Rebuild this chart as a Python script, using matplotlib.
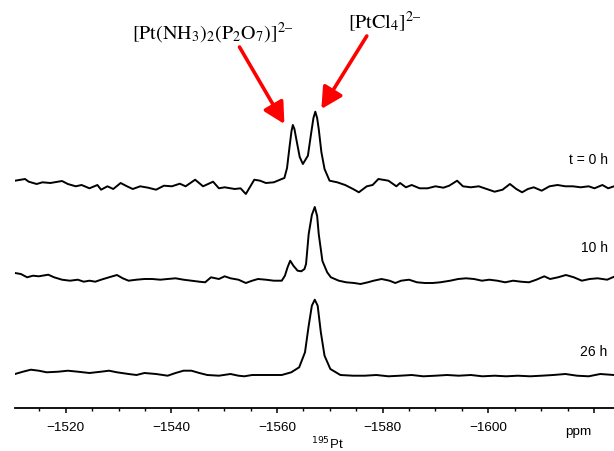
import numpy as np
import matplotlib
matplotlib.use("Agg")
import matplotlib.pyplot as plt

# 195Pt NMR spectra
# intensities are in plot units above each trace's own baseline

t0_ppm = [-1510.4, -1512.3, -1513.0, -1514.5, -1515.6, -1517.1, -1519.3, -1520.4, -1521.9, -1523.0,
          -1524.5, -1526.0, -1526.7, -1527.9, -1529.0, -1530.4, -1531.6, -1532.7, -1534.1, -1535.6,
          -1537.1, -1538.6, -1540.1, -1541.6, -1542.7, -1544.5, -1546.0, -1547.9, -1549.0, -1550.1,
          -1552.0, -1553.1, -1554.1, -1555.7, -1556.8, -1557.9, -1559.4, -1560.9, -1561.4, -1561.9,
          -1562.4, -1562.75, -1563.0, -1563.3, -1563.65, -1564.3, -1564.9, -1565.85, -1566.5, -1566.9,
          -1567.25, -1567.6, -1567.9, -1568.4, -1569.0, -1569.95, -1571.4, -1572.9, -1574.4, -1575.5,
          -1577.0, -1578.1, -1579.2, -1581.1, -1582.6, -1583.3, -1584.4, -1585.5, -1587.0, -1588.5,
          -1590.0, -1591.5, -1592.6, -1594.1, -1595.2, -1596.7, -1598.2, -1599.7, -1601.2, -1602.7,
          -1604.1, -1605.3, -1606.4, -1607.5, -1608.6, -1610.1, -1611.6, -1613.1, -1614.6, -1616.0,
          -1617.5, -1619.0, -1620.1, -1621.6, -1622.7, -1623.8]
t0_int = [3.3, 5, 2.3, 0, 1.7, 1, 3, 0, -2.3, -1,
          -4.3, -1, -5.7, -2.3, -5, 1, -2.3, -5, -2.3, -3.7,
          -5.7, -1.7, -2.3, 0.3, -2.3, 4.3, -2.3, 2.3, -4.3, -3.3,
          -5, -4.3, -10, 4.3, 3.3, 1, 1.7, 5, 6, 16,
          38.3, 53, 59, 55, 45, 27, 20, 28.3, 52, 66,
          72.3, 66, 55, 32, 15, 3.3, 1.7, -1, -5, -8.3,
          -2.3, -1, 5, 3.3, -2.3, 1, -3.3, -1, -4.3, -4.3,
          -2.3, -3.7, -1.7, 3.3, -2.3, -3.3, -2.3, -5, -7.7, -5.7,
          0, -5, -8.3, -5, -3.3, -6.7, -2.3, -1, -2.3, -2.3,
          -3.3, -2.3, -4.3, -1, -4.3, -2.3]

h10_ppm = [-1510.4, -1511.5, -1512.7, -1513.8, -1514.9, -1516.7, -1517.8, -1519.3, -1520.8, -1522.3,
           -1523.4, -1524.5, -1525.6, -1526.7, -1528.2, -1529.7, -1530.8, -1531.9, -1533.4, -1534.9,
           -1536.4, -1537.9, -1539.3, -1540.8, -1542.3, -1543.8, -1545.3, -1546.4, -1547.5, -1549.0,
           -1550.1, -1551.2, -1552.7, -1554.1, -1555.3, -1556.4, -1557.9, -1559.4, -1560.9, -1561.5,
           -1562.0, -1562.5, -1563.1, -1563.9, -1564.6, -1565.2, -1565.5, -1566.0, -1566.6, -1567.15,
           -1567.6, -1567.9, -1568.6, -1569.5, -1570.2, -1571.7, -1573.1, -1574.6, -1575.8, -1577.2,
           -1578.3, -1579.8, -1581.3, -1582.4, -1583.5, -1585.0, -1586.5, -1588.0, -1589.5, -1590.9,
           -1592.8, -1594.3, -1595.8, -1597.3, -1598.8, -1600.2, -1601.7, -1603.2, -1604.7, -1606.2,
           -1607.7, -1609.1, -1610.6, -1611.7, -1613.2, -1614.7, -1616.2, -1617.7, -1619.2, -1620.7,
           -1622.5, -1624.0]
h10_int = [6.0, 5.0, 1.7, 3.3, 2.7, 4.3, 1.7, -0.7, -1.7, -0.7,
           -2.7, -1.7, -2.7, -0.7, 1.7, 4.0, 0.7, -1.7, -0.7, 0,
           0, -0.7, 0, 0.7, -0.7, -1.7, -2.7, -3.3, 1.7, 0,
           2.7, 0.7, -0.7, -4.0, -1.7, 0, -0.7, -1.7, -1.7, 3.3,
           11.7, 18.3, 13.3, 8.3, 7.7, 10, 15, 45, 64, 72,
           63, 45, 18, 6.7, 1.7, -1.7, -3.3, -4.0, -5.0, -3.3,
           -1.7, 0, -1.7, -4.0, -1.7, -0.7, -3.3, -4.0, -4.0, -3.3,
           -1.7, 0, 0.7, 0, -1.7, -0.7, -1.7, -3.3, -1.7, -2.7,
           -3.3, -0.7, 2.7, 0, 1.7, 4.0, 1.7, -1.7, 0, 0.7,
           -0.7, 2.7]

h26_ppm = [-1510.4, -1511.9, -1513.4, -1514.9, -1516.4, -1518.6, -1520.4, -1522.3, -1524.5, -1526.7,
           -1528.2, -1529.7, -1531.9, -1533.4, -1534.9, -1537.1, -1539.3, -1540.8, -1542.3, -1543.8,
           -1545.3, -1546.8, -1549.0, -1551.2, -1552.7, -1553.8, -1555.3, -1557.1, -1559.0, -1560.9,
           -1562.7, -1564.2, -1565.3, -1566.0, -1566.6, -1567.15, -1567.7, -1568.3, -1569.0, -1570.1,
           -1572.0, -1574.4, -1576.6, -1578.8, -1581.1, -1583.3, -1585.5, -1587.7, -1590.0, -1592.2,
           -1594.4, -1596.7, -1598.9, -1601.2, -1603.4, -1605.6, -1607.9, -1610.1, -1612.3, -1614.6,
           -1616.8, -1619.0, -1621.2, -1623.8]
h26_int = [1.0, 3.3, 5.3, 4.3, 2.7, 3.3, 4.3, 3.3, 2.0, 3.3,
           4.3, 2.7, 1.0, 0, 2.0, 1.0, -0.7, 2.0, 4.3, 4.3,
           2.0, 0, -0.7, 1.0, -0.7, -1.3, 0, 0, 0, 0,
           2.7, 7.7, 22.7, 49.3, 69.3, 75.3, 69.3, 42.7, 19.3, 6,
           0, -0.7, -0.7, 0, -1.3, -0.7, 0, -1.3, -0.7, 0,
           -0.7, 0, -1.3, -0.7, -1.3, -0.7, -1.3, -0.7, 0, 1.0,
           -0.7, -1.3, 1.0, 0]

trace_labels = ["t = 0 h", "10 h", "26 h"]
offsets = [224, 129, 33]
label_y = [249, 161, 57]

W, H = 614, 452
fig = plt.figure(figsize=(W / 100, H / 100), dpi=100)
ax = fig.add_axes([15 / W, 43 / H, 599 / W, 409 / H])

traces = [(t0_ppm, t0_int), (h10_ppm, h10_int), (h26_ppm, h26_int)]
for (ppm, inten), off, lab, ly in zip(traces, offsets, trace_labels, label_y):
    ax.plot(ppm, np.array(inten) + off, color="black", lw=1.4, solid_joinstyle="round")
    ax.text(-1622.6, ly, lab, ha="right", va="center", fontsize=10,
            family="Liberation Sans")

ax.set_xlim(-1510.4, -1623.8)
ax.set_ylim(0, 409)

for s in ["top", "left", "right"]:
    ax.spines[s].set_visible(False)
ax.spines["bottom"].set_linewidth(1.3)
ax.set_yticks([])

major = [-1520, -1540, -1560, -1580, -1600, -1620]
ax.set_xticks(major)
ax.set_xticklabels(["\u22121520", "\u22121540", "\u22121560", "\u22121580", "\u22121600", ""])
ax.set_xticks(np.arange(-1515, -1625, -5), minor=True)
ax.tick_params(axis="x", which="major", length=3.6, width=1.1, pad=6, labelsize=9.7)
ax.tick_params(axis="x", which="minor", length=2.2, width=1.0)
for t in ax.get_xticklabels():
    t.set_family("Liberation Sans")

xt = ax.get_xaxis_transform()
ax.text(-1617.1, -23 / 409, "ppm", transform=xt, ha="center", va="center",
        fontsize=9.7, family="Liberation Sans")
ax.text(-1569.6, -35 / 409, r"$^{195}$Pt", transform=xt, ha="center", va="center",
        fontsize=9.5, family="Liberation Sans", math_fontfamily="dejavusans")

# compound labels with red arrows
arrow = dict(arrowstyle="-|>,head_length=0.85,head_width=0.45", color="red", lw=2.6,
             mutation_scale=15, shrinkA=0, shrinkB=0)
ax.annotate("", xy=(-1561.4, 284), xytext=(-1552.9, 361), arrowprops=arrow)
ax.annotate("", xy=(-1568.4, 299), xytext=(-1577.0, 372), arrowprops=arrow)
ax.text(-1547.8, 376, "$\\mathrm{[Pt(NH_3)_2(P_2O_7)]^{2\u2013}}$", ha="center", va="center",
        fontsize=14.5, math_fontfamily="stix")
ax.text(-1580.4, 387, "$\\mathrm{[PtCl_4]^{2\u2013}}$", ha="center", va="center",
        fontsize=14.5, math_fontfamily="stix")

fig.savefig("out.png", dpi=100)
